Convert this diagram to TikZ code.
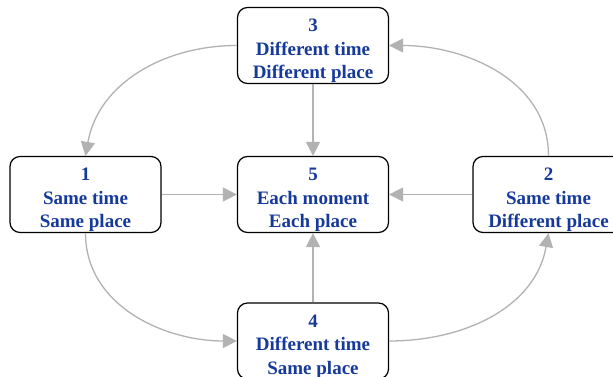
\documentclass[tikz,border=0pt]{standalone}
\usepackage{fontspec}
\setmainfont{Liberation Serif}
\usetikzlibrary{arrows.meta}
\definecolor{txtblue}{RGB}{22,58,155}
\definecolor{linkgray}{RGB}{178,178,178}
\tikzset{
  box/.style={draw=black, line width=1.2pt, rounded corners=10pt, fill=white,
    minimum width=151pt, minimum height=76pt, inner sep=0pt},
  txt/.style={text=txtblue, align=center, inner sep=0pt, anchor=north,
    font=\bfseries\fontsize{19}{23.5}\selectfont},
  link/.style={draw=linkgray, line width=1.3pt,
    -{Triangle[length=14pt,width=14pt]}},
}
\begin{document}
\begin{tikzpicture}[x=1pt,y=1pt]
\useasboundingbox (0,0) rectangle (613,377);
% the five boxes
\node[box] (n3) at (313,331.5) {};
\node[box] (n1) at (85.5,182.5) {};
\node[box] (n5) at (313,182.5) {};
\node[box] (n2) at (548.5,182.5) {};
\node[box] (n4) at (313,36) {};
% their captions
\node[txt] (t3) at ([yshift=-12pt]n3.north) {3\\Different time\\Different place};
\node[txt] (t1) at ([yshift=-12pt]n1.north) {1\\Same time\\Same place};
\node[txt] (t5) at ([yshift=-12pt]n5.north) {5\\Each moment\\Each place};
\node[txt] (t2) at ([yshift=-12pt]n2.north) {2\\Same time\\Different place};
\node[txt] (t4) at ([yshift=-12pt]n4.north) {4\\Different time\\Same place};
% straight links into the centre
\draw[link] (n3.south) -- (n5.north);
\draw[link] (n4.north) -- (n5.south);
\draw[link] (n1.east) -- (n5.west);
\draw[link] (n2.west) -- (n5.east);
% the outer cycle
\draw[link] (n3.west) to[out=180,in=80] (n1.north);
\draw[link] (n1.south) to[out=-90,in=180] (n4.west);
\draw[link] (n4.east) to[out=0,in=-100] (n2.south);
\draw[link] (n2.north) to[out=90,in=0] (n3.east);
\end{tikzpicture}
\end{document}
